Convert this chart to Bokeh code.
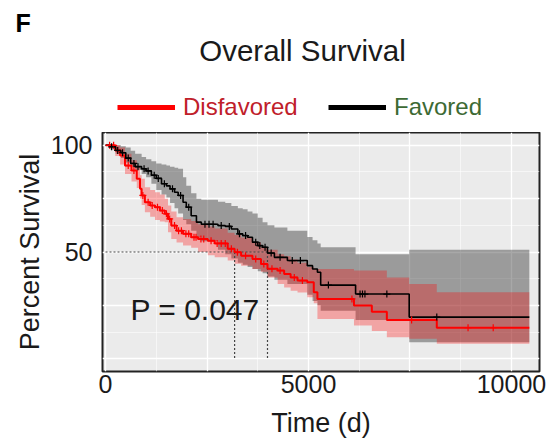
import numpy as np
from bokeh.plotting import figure
from bokeh.layouts import column
from bokeh.models import Range1d, FixedTicker, Label, Legend, LegendItem
from bokeh.embed import file_html
from bokeh.resources import INLINE

FONT = "Liberation Sans"

# ---------------- data ----------------
END_DAY = 10440

# Favored group: Kaplan-Meier steps (days, % survival) and 95% CI
fav_t = [0, 120, 250, 380, 500, 620, 730, 890, 1000, 1130, 1250, 1380, 1500, 1590, 1700,
         1790, 1910, 1990, 2110, 2240, 2360, 2770, 2950, 3100, 3260, 3380, 3500, 3620, 3750,
         3870, 3990, 4160, 4480, 4970, 5100, 5220, 5300, 6160, 7480]
fav_s = [100, 99.3, 97.6, 96.5, 94, 91.5, 90, 89, 88, 86, 84.5, 82, 81, 79.6, 78, 76.5,
         73.3, 71, 67, 64, 63, 62.4, 62, 60.8, 58.5, 57.7, 56.9, 54.6, 53, 52.2, 49.5, 47.5,
         46, 43.6, 42, 40.5, 34.5, 30.3, 19.5]
fav_hi = [100, 100, 100, 99.5, 99, 97.5, 96, 94.5, 93.5, 92.5, 91.5, 91, 90.5, 90, 89.5,
          89, 85, 81, 77.5, 75, 74.5, 73.5, 73, 71.5, 70.5, 70, 69, 68, 66, 64, 62.5, 61.5,
          60, 57, 55.5, 54, 52.2, 49, 51]
fav_lo = [100, 98, 96, 94, 92, 90, 88.5, 86.6, 85, 82, 79, 77, 75.5, 73, 70.5, 68, 65, 63,
          60, 57, 55, 51, 49, 47, 45, 44, 43, 42, 41, 40, 38.5, 37, 35, 30, 27, 25, 22.5,
          18.1, 7.7]
fav_cens = [150, 300, 420, 560, 700, 800, 950, 1050, 1200, 1300, 1450, 1650, 1850, 2050,
            2450, 2550, 2650, 2850, 3050, 3300, 3450, 3700, 3800, 3930, 4080, 4300, 4600,
            4800, 5490, 6270, 6330, 6390, 6930, 8160]

# Disfavored group
dis_t = [0, 240, 360, 480, 640, 770, 850, 890, 970, 1100, 1220, 1340, 1460, 1540, 1620,
         1750, 1910, 2110, 2280, 2520, 2690, 3010, 3180, 3340, 3620, 3830, 3990, 4240, 4400,
         4560, 4730, 4970, 5130, 5220, 6120, 6560, 6930, 7480, 8160]
dis_s = [100, 97.6, 95.2, 90.5, 88.2, 84.3, 79.6, 76.5, 73.3, 71.8, 71, 69.4, 67.9, 65.5,
         62.4, 60, 58.5, 56.9, 56.1, 55.3, 54, 51.5, 49.9, 48.3, 46.7, 44.4, 42.1, 41.3, 39.7,
         38.1, 36.6, 35.8, 31.1, 28, 24.9, 22, 18.1, 18.1, 14.5]
dis_hi = [100, 100, 99, 96, 93, 89.7, 86, 84.3, 80.4, 79, 78, 77, 74.9, 71.8, 69, 66.3,
          65.5, 64.5, 63, 62, 61, 59, 58, 56.8, 54.5, 52.2, 51, 49, 48, 46.5, 45, 43, 42, 42,
          41.3, 41.3, 38.1, 35, 31.1]
dis_lo = [100, 95, 91, 86.6, 83, 80, 75, 72, 68.6, 66.5, 65, 64.3, 63.9, 59.3, 56.1, 54.5,
          53, 52, 50, 48.5, 47.5, 46, 44.5, 43.5, 42, 40.8, 38, 35, 33.4, 31.8, 31, 28.8, 26,
          18.6, 15.5, 13, 10, 9.3, 7]
dis_cens = [100, 200, 300, 560, 700, 920, 1050, 1150, 1280, 1400, 1500, 1580, 1700, 1800,
            1870, 1980, 2050, 2180, 2230, 2350, 2420, 2600, 2750, 2850, 2950, 3100, 3250,
            3450, 3700, 3900, 4100, 4300, 4650, 4850, 6070, 7540, 8930, 9550]

x_ticks = [0, 5000, 10000]
y_ticks = [50, 100]
x_grid_major = [0, 2500, 5000, 7500, 10000]
x_grid_minor = [1250, 3750, 6250, 8750]
y_grid_major = [0, 25, 50, 75, 100]
y_grid_minor = [12.5, 37.5, 62.5, 87.5]

TITLE = "Overall Survival"
PANEL = "F"
P_TEXT = "P = 0.047"
GROUPS = ["Disfavored", "Favored"]
MEDIAN_LEVEL = 50


def extend(t, v):
    return list(t) + [END_DAY], list(v) + [v[-1]]


def at_times(t, s, times):
    t = np.asarray(t)
    s = np.asarray(s)
    idx = np.searchsorted(t, times, side="right") - 1
    return list(s[idx])


def median_time(t, s):
    s = np.asarray(s)
    return t[int(np.argmax(s < MEDIAN_LEVEL))]


# ---------------- header (panel letter, title, legend) ----------------
head = figure(width=546, height=132, output_backend="svg", toolbar_location=None,
              title=None, x_range=Range1d(0, 546), y_range=Range1d(132, 0),
              min_border_left=0, min_border_right=0, min_border_top=0, min_border_bottom=0)
head.frame_align = False
head.axis.visible = False
head.grid.visible = False
head.outline_line_color = None
head.background_fill_color = "white"
head.border_fill_color = "white"

head.add_layout(Label(x=15, y=22, text=PANEL, text_align="left", text_baseline="alphabetic",
                      text_font=FONT, text_font_size="25px", text_font_style="bold",
                      text_color="black"))
head.add_layout(Label(x=302, y=50, text=TITLE, text_align="center",
                      text_baseline="alphabetic", text_font=FONT, text_font_size="29.5px",
                      text_color="#1a1a1a"))

# legend keys: renderers with no visible point, only used for the legend glyphs
r_leg_dis = head.line(x=[0, 1], y=[np.nan, np.nan], line_color="#ff0000", line_width=5)
r_leg_fav = head.line(x=[0, 1], y=[np.nan, np.nan], line_color="black", line_width=5)
for rend, lab, col, loc in ((r_leg_dis, GROUPS[0], "#c0202a", (117, 11)),
                            (r_leg_fav, GROUPS[1], "#3d6a34", (328, 11))):
    lg = Legend(items=[LegendItem(label=lab, renderers=[rend])], location=loc,
                label_text_font=FONT, label_text_font_size="24px", label_text_color=col,
                glyph_width=58, glyph_height=20, label_height=20, label_standoff=8,
                padding=0, margin=0, spacing=0, border_line_alpha=0,
                background_fill_alpha=0)
    head.add_layout(lg)

# ---------------- main chart ----------------
p = figure(width=546, height=314, output_backend="svg", toolbar_location=None,
           title=None, x_range=Range1d(-74, 10690), y_range=Range1d(-6, 106),
           min_border_left=102, min_border_right=7, min_border_top=0,
           min_border_bottom=75)
p.frame_align = False

p.background_fill_color = "#ebebeb"
p.border_fill_color = "white"
p.outline_line_color = "#222222"
p.outline_line_width = 2

# grids (ggplot-like)
p.xgrid.ticker = FixedTicker(ticks=x_grid_major, minor_ticks=x_grid_minor)
p.ygrid.ticker = FixedTicker(ticks=y_grid_major, minor_ticks=y_grid_minor)
for g in (p.xgrid, p.ygrid):
    g.grid_line_color = "white"
    g.grid_line_width = 1.3
    g.minor_grid_line_color = "white"
    g.minor_grid_line_width = 0.7
    g.minor_grid_line_alpha = 0.8

# axes
p.xaxis.ticker = FixedTicker(ticks=x_ticks)
p.yaxis.ticker = FixedTicker(ticks=y_ticks)
for ax in (p.xaxis, p.yaxis):
    ax.axis_line_color = None
    ax.major_tick_line_color = None
    ax.minor_tick_line_color = None
    ax.major_tick_out = 0
    ax.major_tick_in = 0
    ax.major_label_text_font = FONT
    ax.major_label_text_font_size = "25px"
    ax.major_label_text_color = "#1a1a1a"
    ax.axis_label_text_font = FONT
    ax.axis_label_text_font_size = "27px"
    ax.axis_label_text_font_style = "normal"
    ax.axis_label_text_color = "#1a1a1a"
p.xaxis.axis_label = "Time (d)"
p.yaxis.axis_label = "Percent Survival"
p.xaxis.major_label_standoff = 3
p.xaxis.axis_label_standoff = 12
p.yaxis.major_label_standoff = 10
p.yaxis.axis_label_standoff = 3

# confidence bands
ft, fhi = extend(fav_t, fav_hi)
_, flo = extend(fav_t, fav_lo)
p.varea_step(x=ft, y1=flo, y2=fhi, step_mode="after", fill_color="black", fill_alpha=0.34)
dt, dhi = extend(dis_t, dis_hi)
_, dlo = extend(dis_t, dis_lo)
p.varea_step(x=dt, y1=dlo, y2=dhi, step_mode="after", fill_color="#ff0000", fill_alpha=0.3)

# median guides
fav_med = median_time(fav_t, fav_s)
dis_med = median_time(dis_t, dis_s)
p.segment(x0=[0, dis_med, fav_med], y0=[MEDIAN_LEVEL] * 3,
          x1=[fav_med, dis_med, fav_med], y1=[MEDIAN_LEVEL, 0, 0],
          line_color="#444444", line_width=1.2, line_dash="2 2")

# survival curves
fx, fy = extend(fav_t, fav_s)
dx, dy = extend(dis_t, dis_s)
p.step(x=dx, y=dy, mode="after", line_color="#ff0000", line_width=2)
p.step(x=fx, y=fy, mode="after", line_color="black", line_width=1.6)

# censor marks
p.scatter(x=dis_cens, y=at_times(dis_t, dis_s, dis_cens), marker="cross", size=7,
          line_color="#ff0000", line_width=1.2)
p.scatter(x=fav_cens, y=at_times(fav_t, fav_s, fav_cens), marker="cross", size=7,
          line_color="black", line_width=1.2)

p.add_layout(Label(x=616, y=23.2, text=P_TEXT, text_align="left",
                   text_baseline="alphabetic", text_font=FONT, text_font_size="30px",
                   text_color="#1a1a1a"))

layout = column(head, p, spacing=0)
open("out.html", "w").write(file_html(layout, INLINE))
